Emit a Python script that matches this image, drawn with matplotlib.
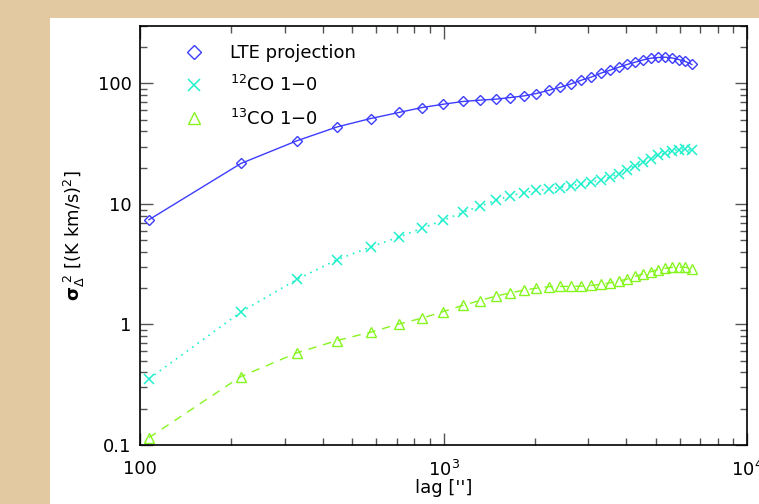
import numpy as np
import matplotlib
matplotlib.use("Agg")
import matplotlib.pyplot as plt
from matplotlib.patches import Rectangle
from matplotlib.ticker import FixedLocator, FixedFormatter, LogLocator, NullFormatter

# Structure function of the velocity centroid maps
lag = [107, 215, 329, 446, 575, 713, 851, 998, 1157, 1316, 1486, 1660,
       1842, 2022, 2226, 2425, 2631, 2845, 3062, 3296, 3537, 3778, 4024,
       4285, 4552, 4817, 5090, 5370, 5662, 5954, 6263, 6584]

sf_lte = [7.4, 21.7, 33.5, 43.6, 51.2, 57.5, 63.2, 67.3, 70.9, 72.7, 74.1,
          76.5, 78.9, 82.6, 87.9, 93.1, 99.3, 106.5, 112.8, 121.7, 128.9,
          136.5, 143.8, 150.3, 157.0, 162.2, 164.4, 165.3, 163.0, 158.1,
          152.3, 143.8]

sf_12co = [0.354, 1.27, 2.37, 3.45, 4.39, 5.32, 6.31, 7.32, 8.53, 9.57, 10.7,
           11.7, 12.4, 13.0, 13.3, 13.7, 14.2, 14.6, 15.1, 15.8, 16.7, 17.8,
           19.2, 20.7, 22.2, 23.8, 25.4, 26.5, 27.6, 28.3, 28.5, 27.9]

sf_13co = [0.115, 0.370, 0.582, 0.736, 0.863, 1.01, 1.13, 1.28, 1.44, 1.58,
           1.72, 1.83, 1.93, 2.00, 2.06, 2.07, 2.07, 2.08, 2.11, 2.15, 2.22,
           2.29, 2.38, 2.51, 2.64, 2.74, 2.85, 2.92, 2.98, 2.99, 2.98, 2.90]

xticks = [100, 1000, 10000]
xticklabels = ["100", r"10$^3$", r"10$^4$"]
yticks = [0.1, 1, 10, 100]
yticklabels = ["0.1", "1", "10", "100"]

plt.rcParams["font.family"] = "DejaVu Sans"
plt.rcParams["mathtext.default"] = "regular"

fig = plt.figure(figsize=(7.59, 5.04), dpi=100)
fig.patch.set_facecolor("#e2c9a2")
# white page area behind the plot
fig.patches.append(Rectangle((0.0665, 0.0), 1.0, 0.964, transform=fig.transFigure,
                             facecolor="white", edgecolor="none", zorder=-10))

ax = fig.add_axes([0.1845, 0.1171, 0.7997, 0.8313])
ax.set_facecolor("white")

ax.plot(lag, sf_lte, color="#3c3cff", lw=1.0, ls="-", marker="D", ms=5.5,
        mfc="none", mew=1.0, label="LTE projection")
ax.plot(lag, sf_12co, color="#1ef0cc", lw=1.2, ls=(0, (1, 3)), marker="x", ms=7,
        mew=1.1, label=r"$^{12}$CO 1$-$0")
ax.plot(lag, sf_13co, color="#86f51e", lw=1.0, ls=(0, (6, 5)), marker="^", ms=6.5,
        mfc="none", mew=1.0, label=r"$^{13}$CO 1$-$0")

ax.set_xscale("log")
ax.set_yscale("log")
ax.set_xlim(100, 10000)
ax.set_ylim(0.1, 300)

ax.xaxis.set_major_locator(FixedLocator(xticks))
ax.xaxis.set_major_formatter(FixedFormatter(xticklabels))
ax.xaxis.set_minor_locator(LogLocator(base=10, subs=np.arange(2, 10)))
ax.xaxis.set_minor_formatter(NullFormatter())
ax.yaxis.set_major_locator(FixedLocator(yticks))
ax.yaxis.set_major_formatter(FixedFormatter(yticklabels))
ax.yaxis.set_minor_locator(LogLocator(base=10, subs=np.arange(2, 10)))
ax.yaxis.set_minor_formatter(NullFormatter())

ax.tick_params(which="both", direction="in", top=True, right=True,
               color="#555555", labelsize=13)
ax.tick_params(which="major", length=9, width=1.0)
ax.tick_params(which="minor", length=5, width=1.0)
ax.tick_params(axis="x", which="major", pad=11)
ax.tick_params(axis="y", which="major", pad=6)
for sp in ax.spines.values():
    sp.set_linewidth(1.2)
    sp.set_color("black")

ax.set_xlabel("lag ['']", fontsize=13, labelpad=-1)
ax.set_ylabel(r"$\mathbf{\sigma}_{\Delta}^{\ 2}$ [(K km/s)$^2$]", fontsize=13, labelpad=8)

# legend shows the symbols only
leg = ax.legend(loc="upper left", bbox_to_anchor=(0.045, 0.995), frameon=False,
                numpoints=1, handlelength=1.2, handletextpad=1.35, labelspacing=0.72,
                fontsize=13, markerscale=1.25)
for h in leg.legend_handles:
    h.set_linestyle("None")

fig.savefig("out.png", dpi=100, facecolor=fig.get_facecolor())
